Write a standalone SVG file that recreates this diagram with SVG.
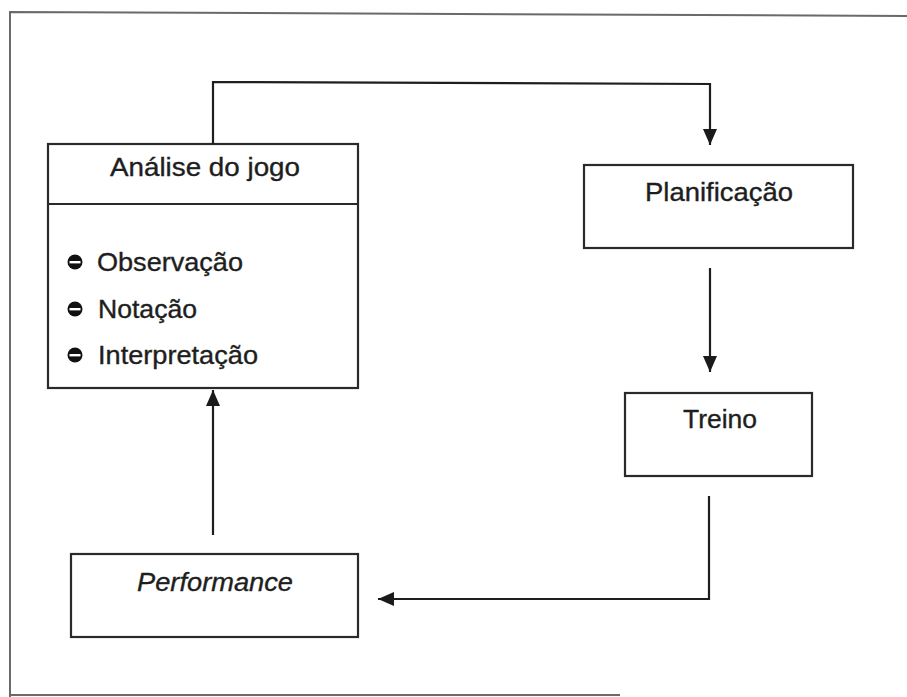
<svg xmlns="http://www.w3.org/2000/svg" width="907" height="697" viewBox="0 0 907 697">
<defs>
<marker id="arr" viewBox="0 0 16 14" refX="16" refY="7" markerWidth="16" markerHeight="14" markerUnits="userSpaceOnUse" orient="auto">
<path d="M0,0 L16,7 L0,14 Z" fill="#1a1a1a"/>
</marker>
</defs>
<style>
.box{fill:#fff;stroke:#2a2a2a;stroke-width:2.2}
.lbl{font-family:"Liberation Sans",Arial,sans-serif;font-size:25px;fill:#1e1e1e;stroke:#1e1e1e;stroke-width:0.35}
.it{font-style:italic}
.con{fill:none;stroke:#1e1e1e;stroke-width:2.2}
.frame{fill:none;stroke:#6a6a6a;stroke-width:2}
.bul{fill:#111}
.bar{fill:#fff}
</style>
<rect width="907" height="697" fill="#fff"/>
<g id="frame">
<path class="frame" d="M10,697 L10,12 L907,16"/>
<path class="frame" d="M10,695 L620,695" stroke="#888"/>
</g>
<g id="analise">
<rect class="box" x="48" y="144" width="310" height="244"/>
<line class="box" x1="48" y1="204" x2="358" y2="204"/>
<text class="lbl" x="110" y="176" textLength="190" lengthAdjust="spacingAndGlyphs">Análise do jogo</text>
<circle class="bul" cx="75" cy="262" r="7.5"/><rect class="bar" x="69.5" y="261" width="11" height="2.4"/>
<text class="lbl" x="97" y="271" textLength="146" lengthAdjust="spacingAndGlyphs">Observação</text>
<circle class="bul" cx="75" cy="309" r="7.5"/><rect class="bar" x="69.5" y="308" width="11" height="2.4"/>
<text class="lbl" x="98" y="318" textLength="99" lengthAdjust="spacingAndGlyphs">Notação</text>
<circle class="bul" cx="75" cy="355" r="7.5"/><rect class="bar" x="69.5" y="354" width="11" height="2.4"/>
<text class="lbl" x="98" y="364" textLength="160" lengthAdjust="spacingAndGlyphs">Interpretação</text>
</g>
<g id="planificacao">
<rect class="box" x="584" y="165" width="269" height="83"/>
<text class="lbl" x="645" y="201" textLength="148" lengthAdjust="spacingAndGlyphs">Planificação</text>
</g>
<g id="treino">
<rect class="box" x="625" y="393" width="187" height="83"/>
<text class="lbl" x="683" y="428" textLength="74" lengthAdjust="spacingAndGlyphs">Treino</text>
</g>
<g id="performance">
<rect class="box" x="71" y="554" width="287" height="83"/>
<text class="lbl it" x="137" y="591" textLength="156" lengthAdjust="spacingAndGlyphs">Performance</text>
</g>
<g id="connectors">
<path class="con" d="M213,144 L213,82 L710,84 L710,145" marker-end="url(#arr)"/>
<path class="con" d="M710,268 L710,372" marker-end="url(#arr)"/>
<path class="con" d="M709,496 L709,599 L378,599" marker-end="url(#arr)"/>
<path class="con" d="M213,535 L213,390" marker-end="url(#arr)"/>
</g>
</svg>
